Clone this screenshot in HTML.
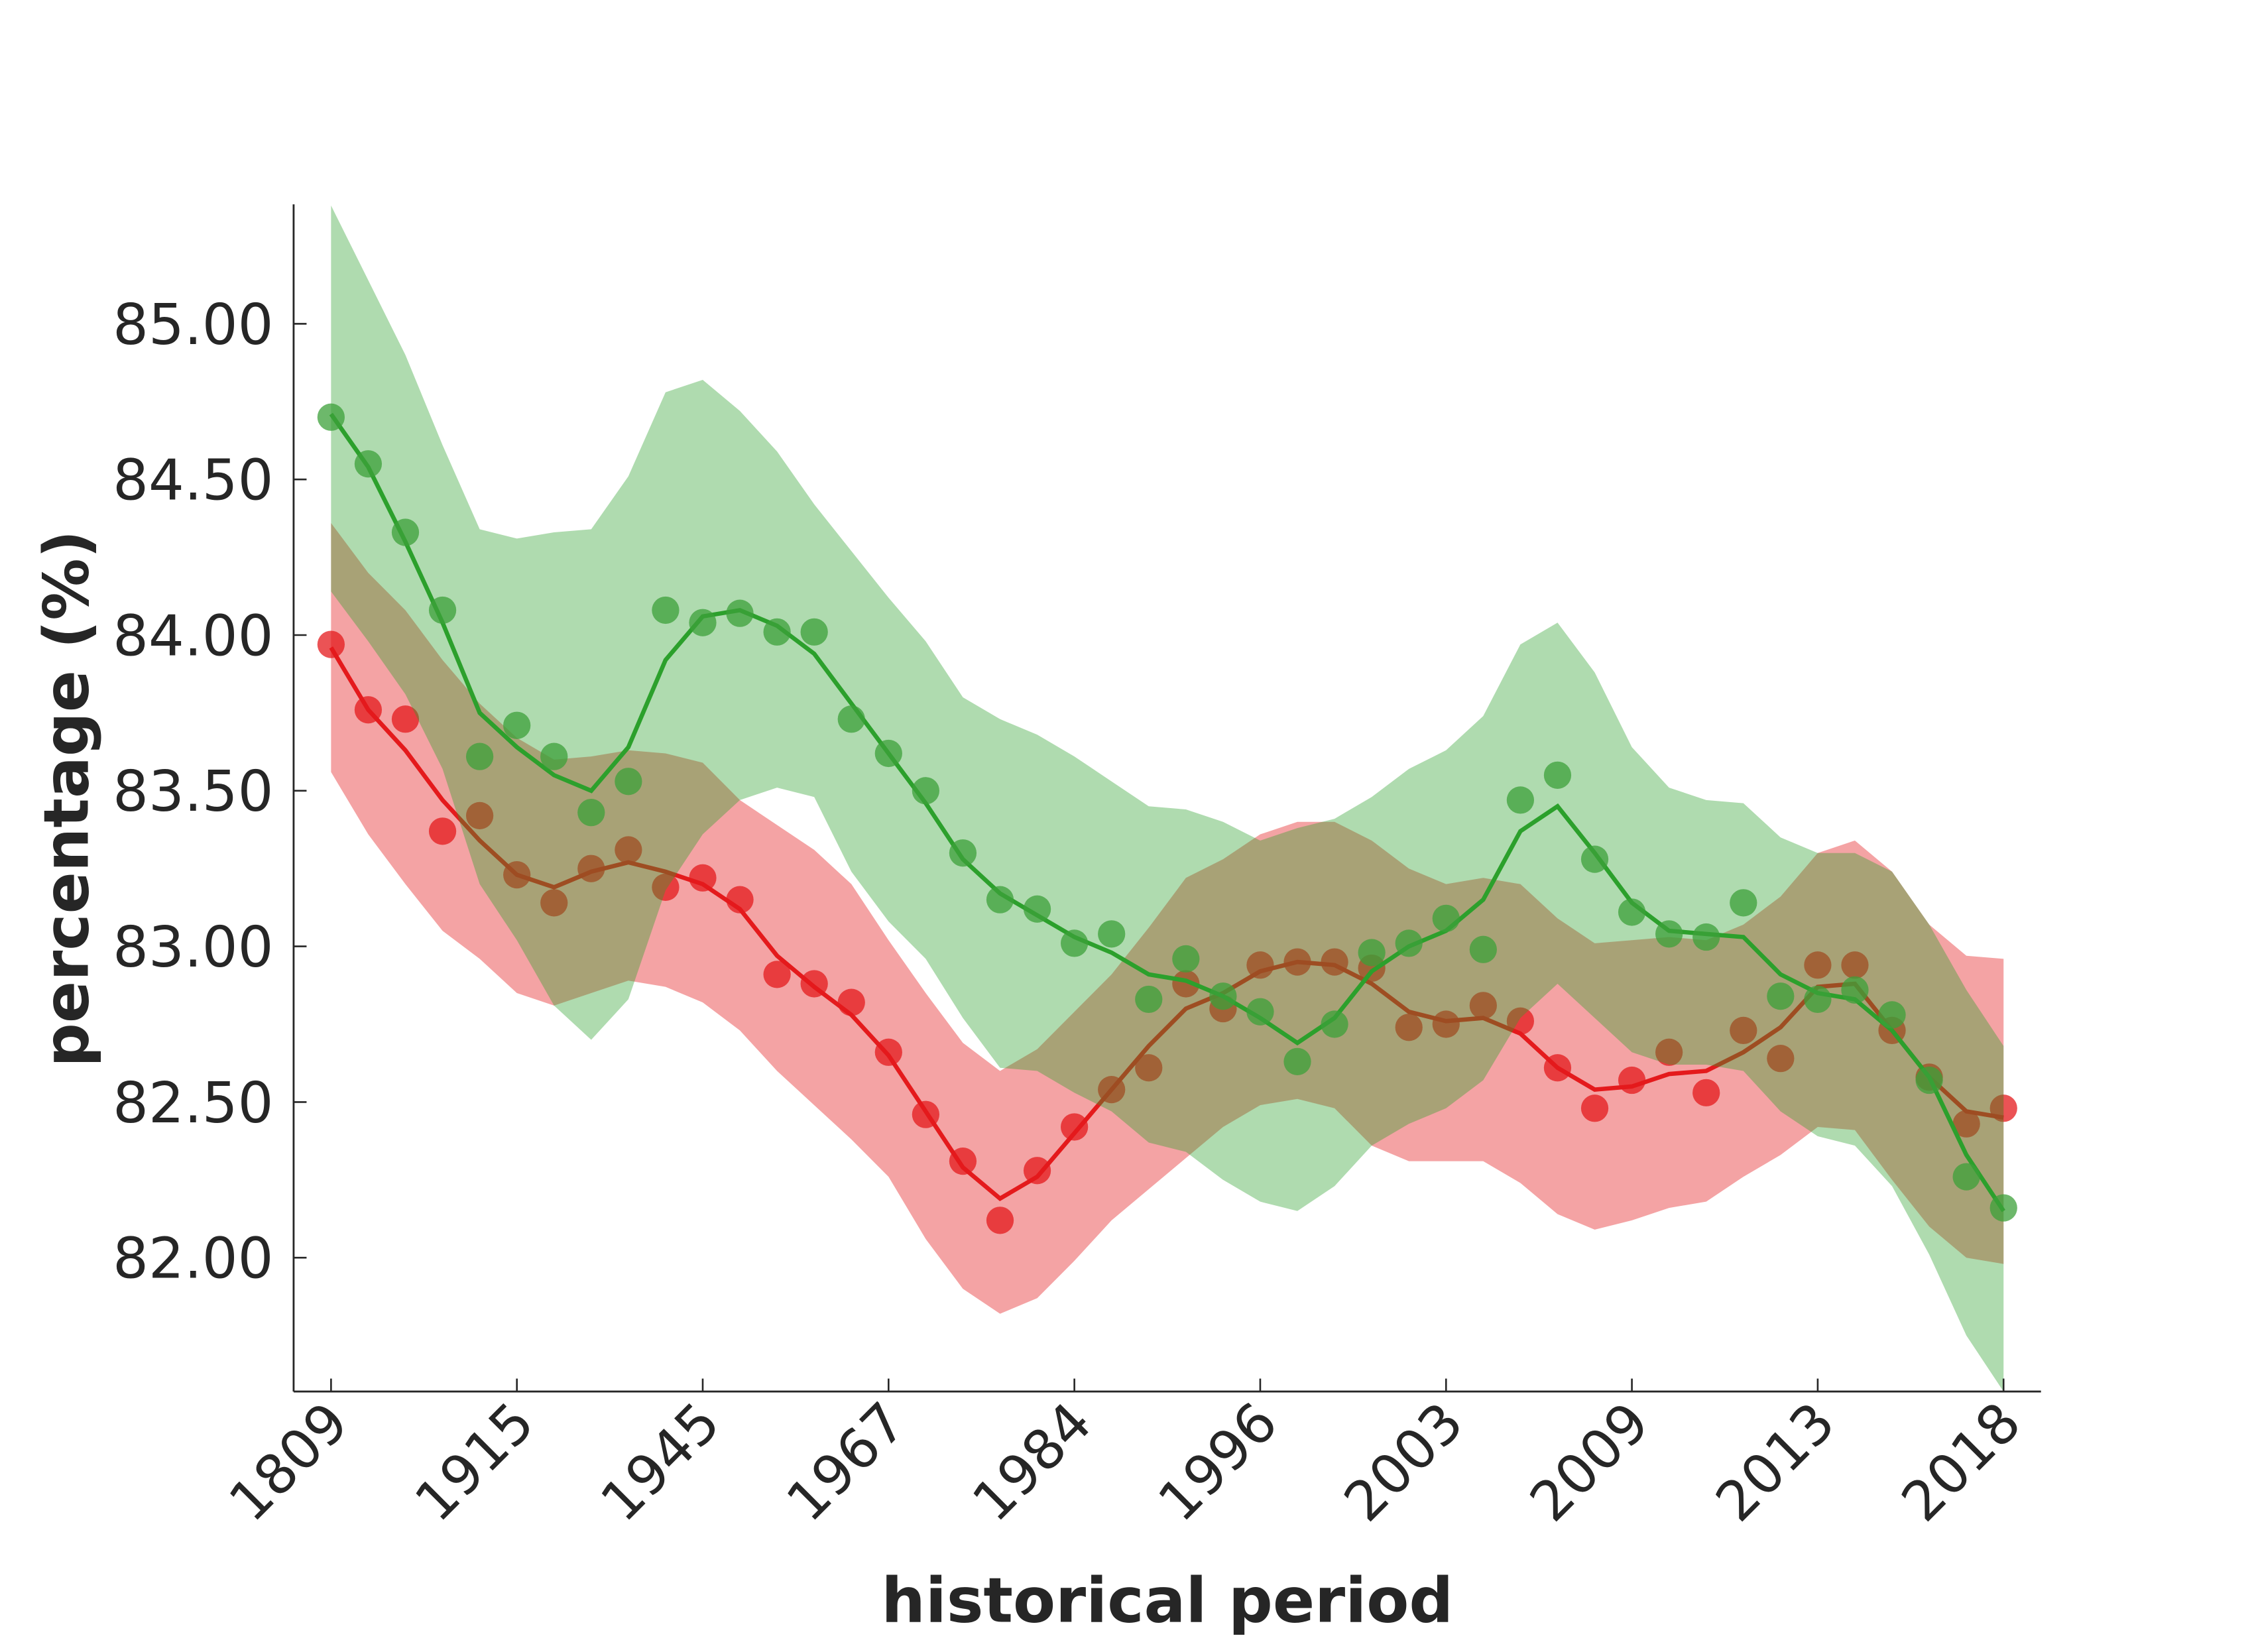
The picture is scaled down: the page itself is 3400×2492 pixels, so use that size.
<!DOCTYPE html>
<html><head><meta charset="utf-8"><style>
html,body{margin:0;padding:0;background:#fff;}
svg{display:block;}
text{font-family:"DejaVu Sans","Liberation Sans",sans-serif;fill:#262626;}
</style></head><body>
<svg id="chart" width="3400" height="2492" viewBox="0 0 1566 1148" preserveAspectRatio="none" xmlns="http://www.w3.org/2000/svg">
<g id="plot"></g>
</svg>
<script>
const tickLabels=["1809","1915","1945","1967","1984","1996","2003","2009","2013","2018"];
const yTicks=[82.0,82.5,83.0,83.5,84.0,84.5,85.0];
const greenDots=[84.70,84.55,84.33,84.08,83.61,83.71,83.61,83.43,83.53,84.08,84.04,84.07,84.01,84.01,83.73,83.62,83.50,83.30,83.15,83.12,83.01,83.04,82.83,82.96,82.84,82.79,82.63,82.75,82.98,83.01,83.09,82.99,83.47,83.55,83.28,83.11,83.04,83.03,83.14,82.84,82.83,82.86,82.78,82.57,82.26,82.16];
const greenLine=[84.71,84.54,84.30,84.04,83.75,83.64,83.55,83.50,83.64,83.92,84.06,84.08,84.03,83.94,83.78,83.62,83.46,83.28,83.17,83.10,83.03,82.98,82.91,82.89,82.84,82.77,82.69,82.77,82.92,83.00,83.05,83.15,83.37,83.45,83.30,83.14,83.05,83.04,83.03,82.91,82.85,82.83,82.73,82.58,82.33,82.15];
const greenUpper=[85.38,85.14,84.90,84.61,84.34,84.31,84.33,84.34,84.51,84.78,84.82,84.72,84.59,84.42,84.27,84.12,83.98,83.80,83.73,83.68,83.61,83.53,83.45,83.44,83.40,83.34,83.38,83.41,83.48,83.57,83.63,83.74,83.97,84.04,83.88,83.64,83.51,83.47,83.46,83.35,83.30,83.30,83.24,83.07,82.86,82.68];
const greenLower=[84.14,83.98,83.81,83.57,83.20,83.02,82.81,82.70,82.83,83.18,83.36,83.47,83.51,83.48,83.24,83.08,82.96,82.77,82.61,82.60,82.53,82.47,82.37,82.34,82.25,82.18,82.15,82.23,82.36,82.43,82.48,82.57,82.77,82.88,82.77,82.66,82.62,82.62,82.60,82.47,82.39,82.36,82.23,82.01,81.75,81.57];
const redDots=[83.97,83.76,83.73,83.37,83.42,83.23,83.14,83.25,83.31,83.19,83.22,83.15,82.91,82.88,82.82,82.66,82.46,82.31,82.12,82.28,82.42,82.54,82.61,82.88,82.80,82.94,82.95,82.95,82.93,82.74,82.75,82.81,82.76,82.61,82.48,82.57,82.66,82.53,82.73,82.64,82.94,82.94,82.73,82.58,82.43,82.48];
const redLine=[83.96,83.76,83.63,83.47,83.34,83.23,83.19,83.24,83.27,83.24,83.20,83.12,82.97,82.87,82.78,82.65,82.47,82.29,82.19,82.26,82.40,82.54,82.68,82.80,82.85,82.92,82.95,82.94,82.88,82.79,82.76,82.77,82.72,82.61,82.54,82.55,82.59,82.60,82.66,82.74,82.87,82.88,82.73,82.58,82.47,82.45];
const redUpper=[84.36,84.20,84.08,83.92,83.78,83.67,83.60,83.61,83.63,83.62,83.59,83.47,83.39,83.31,83.20,83.02,82.85,82.69,82.60,82.67,82.79,82.91,83.06,83.22,83.28,83.36,83.40,83.40,83.34,83.25,83.20,83.22,83.20,83.09,83.01,83.02,83.03,83.02,83.07,83.16,83.30,83.34,83.24,83.07,82.97,82.96];
const redLower=[83.56,83.36,83.20,83.05,82.96,82.85,82.81,82.85,82.89,82.87,82.82,82.73,82.60,82.49,82.38,82.26,82.06,81.90,81.82,81.87,81.99,82.12,82.22,82.32,82.42,82.49,82.51,82.48,82.36,82.31,82.31,82.31,82.24,82.14,82.09,82.12,82.16,82.18,82.26,82.33,82.42,82.41,82.25,82.10,82.00,81.98];

const NS="http://www.w3.org/2000/svg";
const g=document.getElementById('plot');
const X0=230,X1=1392,L=204,R=1418,T=142,B=967;
const n=greenDots.length;
function xs(i){return X0+(X1-X0)*i/(n-1);}
function ys(v){return 225+(85-v)*216.33;}
function mk(tag,attrs){const e=document.createElementNS(NS,tag);for(const k in attrs)e.setAttribute(k,attrs[k]);g.appendChild(e);return e;}
function band(up,lo,fill,op,name){
  let d='M'+up.map((v,i)=>xs(i)+','+ys(v)).join('L');
  for(let i=n-1;i>=0;i--)d+='L'+xs(i)+','+ys(lo[i]);
  const p=mk('path',{d:d+'Z',fill:fill,'fill-opacity':op});
  
  
}
function line(arr,col,name){
  const p=mk('polyline',{points:arr.map((v,i)=>xs(i)+','+ys(v)).join(' '),fill:'none',stroke:col,'stroke-width':3});
  
  
}
function dots(arr,col,name){
  arr.forEach((v,i)=>{const c=mk('circle',{cx:xs(i),cy:ys(v),r:9.5,fill:col,'fill-opacity':0.75});
    
    });
}
band(redUpper,redLower,'#e41a1c',0.4,'red-band');
line(redLine,'#e41a1c','red-line');
dots(redDots,'#e41a1c','red-point');
band(greenUpper,greenLower,'#2ca02c',0.38,'green-band');
line(greenLine,'#2ca02c','green-line');
dots(greenDots,'#3ca03a','green-point');
const ax1=mk('line',{x1:L,y1:T,x2:L,y2:B,stroke:'#262626','stroke-width':1.3});


const ax2=mk('line',{x1:L,y1:B,x2:R,y2:B,stroke:'#262626','stroke-width':1.3});


yTicks.forEach(v=>{
  const t=mk('line',{x1:L,y1:ys(v),x2:L+9,y2:ys(v),stroke:'#262626','stroke-width':1.2});
  
  
  const tx=mk('text',{x:190,y:ys(v)+14,'text-anchor':'end','font-size':39});
  tx.textContent=v.toFixed(2);
  
  
});
tickLabels.forEach((lab,k)=>{
  const x=xs(k*5);
  const t=mk('line',{x1:x,y1:B,x2:x,y2:B-9,stroke:'#262626','stroke-width':1.2});
  
  
  const tx=mk('text',{x:x+14,y:B+24,'text-anchor':'end','font-size':38,transform:'rotate(-45 '+(x+14)+' '+(B+24)+')'});
  tx.textContent=lab;
  
  
});
const xl=mk('text',{x:811,y:1127,'text-anchor':'middle','font-size':43,'font-weight':'bold'});
xl.textContent='historical period';


const yl=mk('text',{x:61,y:555,'text-anchor':'middle','font-size':43,'font-weight':'bold',transform:'rotate(-90 61 555)'});
yl.textContent='percentage (%)';


</script>
</body></html>
